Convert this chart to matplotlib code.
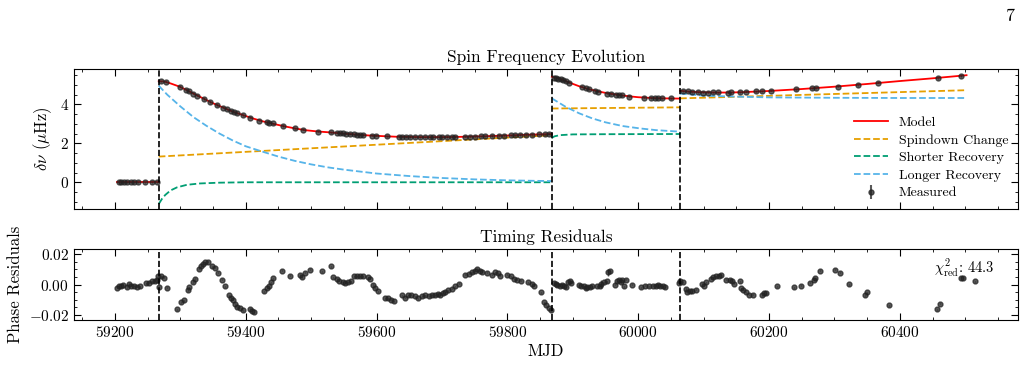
import numpy as np
import matplotlib
matplotlib.use('Agg')
import matplotlib.pyplot as plt
from matplotlib.ticker import AutoMinorLocator, MultipleLocator

# glitch epochs (MJD)
glitch_mjd = [59267, 59868, 60064]

# measured spin frequency offsets (uHz)
freq_mjd = [59206, 59210, 59214, 59219, 59224, 59229, 59236, 59246, 59257, 59264,
            59270, 59278, 59299, 59308, 59313, 59320, 59326, 59336, 59346, 59356,
            59366, 59372, 59377, 59382, 59387, 59396, 59406, 59421, 59432, 59436,
            59441, 59457, 59475, 59487, 59510,
            59531, 59539, 59544, 59549, 59554, 59560, 59565, 59570, 59575, 59580,
            59593, 59599, 59616, 59634, 59639, 59645, 59651, 59659, 59667, 59674,
            59682, 59687, 59696, 59700, 59708, 59715, 59720, 59736, 59743, 59751,
            59759, 59766, 59777, 59787, 59795, 59805, 59812, 59820, 59828, 59838,
            59848, 59858, 59863,
            59871, 59875, 59878, 59882, 59885, 59889, 59895, 59914, 59920, 59925,
            59934, 59939, 59953, 59958, 59966, 59971, 59976, 59986, 60009, 60019,
            60025, 60030, 60037, 60050,
            60068, 60076, 60083, 60091, 60099, 60106, 60114, 60122, 60137, 60142,
            60155, 60165, 60180, 60190, 60203, 60241, 60265, 60272, 60305, 60336,
            60367, 60459, 60494]
freq_val = [0.0, 0.0, 0.0, 0.0, 0.0, 0.0, 0.0, 0.0, 0.0, 0.0,
            5.18, 5.16, 4.91, 4.75, 4.67, 4.55, 4.45, 4.28, 4.12, 3.97,
            3.83, 3.74, 3.67, 3.60, 3.54, 3.45, 3.32, 3.16, 3.09, 3.06,
            3.02, 2.89, 2.77, 2.69, 2.60,
            2.56, 2.54, 2.52, 2.51, 2.49, 2.48, 2.46, 2.45, 2.44, 2.43,
            2.40, 2.39, 2.36, 2.34, 2.34, 2.33, 2.33, 2.32, 2.32, 2.32,
            2.32, 2.32, 2.32, 2.32, 2.33, 2.33, 2.33, 2.34, 2.35, 2.35,
            2.36, 2.37, 2.38, 2.39, 2.40, 2.41, 2.42, 2.43, 2.44, 2.45,
            2.46, 2.47, 2.48,
            5.38, 5.37, 5.33, 5.30, 5.25, 5.20, 5.12, 4.91, 4.82, 4.77,
            4.68, 4.65, 4.55, 4.51, 4.50, 4.49, 4.47, 4.40, 4.35, 4.33,
            4.32, 4.31, 4.31, 4.31,
            4.68, 4.67, 4.63, 4.62, 4.60, 4.60, 4.62, 4.62, 4.60, 4.62,
            4.62, 4.66, 4.68, 4.68, 4.70, 4.77, 4.82, 4.82, 4.92, 4.99,
            5.11, 5.35, 5.46]
freq_err = 0.03

# model and its components, per inter-glitch segment
model_mjd_0 = [59203, 59267]
model_val_0 = [0.0, 0.0]

model_mjd_1 = [59267, 59275, 59285, 59299, 59310, 59320, 59336, 59350, 59366, 59380,
               59396, 59410, 59425, 59440, 59457, 59475, 59490, 59510, 59530, 59550,
               59570, 59590, 59610, 59630, 59650, 59670, 59700, 59720, 59740, 59760,
               59780, 59800, 59820, 59840, 59868]
model_val_1 = [5.19, 5.18, 5.08, 4.91, 4.73, 4.56, 4.29, 4.06, 3.83, 3.63,
               3.45, 3.29, 3.14, 3.02, 2.89, 2.77, 2.68, 2.61, 2.56, 2.50,
               2.45, 2.40, 2.37, 2.34, 2.33, 2.32, 2.32, 2.33, 2.34, 2.36,
               2.38, 2.40, 2.43, 2.45, 2.48]
model_mjd_2 = [59868, 59880, 59895, 59910, 59925, 59940, 59955, 59970, 59985, 60000,
               60020, 60040, 60064]
model_val_2 = [5.42, 5.32, 5.12, 4.93, 4.78, 4.66, 4.56, 4.49, 4.42, 4.37,
               4.33, 4.31, 4.30]
model_mjd_3 = [60064, 60080, 60100, 60120, 60140, 60160, 60180, 60200, 60250, 60300,
               60350, 60400, 60450, 60502]
model_val_3 = [4.70, 4.65, 4.62, 4.61, 4.61, 4.63, 4.66, 4.69, 4.79, 4.91,
               5.05, 5.20, 5.34, 5.50]

spin_mjd_1 = [59267, 59868]
spin_val_1 = [1.32, 2.42]
spin_mjd_2 = [59868, 60064]
spin_val_2 = [3.79, 3.85]
spin_mjd_3 = [60064, 60502]
spin_val_3 = [4.31, 4.73]

short_mjd_1 = [59267, 59272, 59277, 59285, 59295, 59310, 59330, 59360, 59400, 59868]
short_val_1 = [-1.12, -0.85, -0.65, -0.42, -0.26, -0.13, -0.06, -0.02, 0.0, 0.0]
short_mjd_2 = [59868, 59872, 59880, 59900, 59950, 60064]
short_val_2 = [2.28, 2.36, 2.42, 2.46, 2.47, 2.48]

long_mjd_1 = [59267, 59280, 59300, 59320, 59340, 59360, 59380, 59400, 59425, 59450,
              59475, 59500, 59525, 59550, 59575, 59600, 59650, 59700, 59750, 59800,
              59868]
long_val_1 = [4.96, 4.50, 3.90, 3.35, 2.90, 2.50, 2.15, 1.85, 1.58, 1.32,
              1.10, 0.92, 0.77, 0.65, 0.55, 0.45, 0.32, 0.22, 0.15, 0.10,
              0.06]
long_mjd_2 = [59868, 59889, 59910, 59930, 59950, 59976, 60002, 60027, 60064]
long_val_2 = [4.31, 3.88, 3.54, 3.28, 3.08, 2.89, 2.77, 2.68, 2.60]
long_mjd_3 = [60064, 60100, 60150, 60201, 60300, 60400, 60502]
long_val_3 = [4.56, 4.45, 4.40, 4.36, 4.34, 4.33, 4.33]

# phase residuals
res_mjd = [59203, 59206, 59210, 59213, 59218, 59222, 59225, 59229, 59234, 59238,
           59247, 59252, 59256, 59261, 59264, 59266, 59267, 59271, 59275, 59280,
           59295, 59301, 59305, 59311, 59314, 59319, 59322, 59328, 59331, 59335,
           59338, 59343, 59349, 59353, 59358, 59363, 59368, 59374, 59377, 59381,
           59383, 59387, 59391, 59396, 59406, 59410, 59413, 59428, 59432, 59436,
           59439, 59442, 59455, 59467, 59483, 59486, 59491, 59499, 59517,
           59531, 59534, 59539, 59543, 59548, 59552, 59557, 59561, 59566, 59570,
           59575, 59579, 59587, 59590, 59594, 59598, 59602, 59613, 59618, 59622,
           59627, 59639, 59644, 59648, 59653, 59659, 59664, 59669, 59674, 59680,
           59685, 59690, 59694, 59697, 59701, 59705, 59710, 59715, 59720, 59726,
           59736, 59742, 59746, 59751, 59754, 59758, 59761, 59769, 59777, 59781,
           59785, 59789, 59800, 59805, 59810, 59815, 59821, 59832, 59838, 59841,
           59852, 59856, 59859, 59863, 59866,
           59871, 59874, 59876, 59880, 59883, 59886, 59889, 59893, 59896, 59898,
           59910, 59913, 59917, 59920, 59922, 59926, 59930, 59937, 59941, 59943,
           59948, 59952, 59954, 59957, 59964, 59968, 59971, 59973, 59976, 59978,
           59982, 59991, 60004, 60011, 60017, 60022, 60027, 60031, 60034, 60038,
           60041, 60062, 60064, 60068, 60073, 60075, 60079, 60083, 60088, 60098,
           60101, 60104, 60111, 60115, 60119, 60123, 60126, 60135, 60140, 60143,
           60147, 60155, 60157, 60161, 60165, 60169, 60175, 60190, 60193, 60195,
           60212, 60238, 60249, 60263, 60269, 60271, 60278, 60301, 60309, 60323,
           60347, 60350, 60383, 60457, 60461, 60493, 60497, 60515]
res_val = [-0.0022, -0.0011, -0.0007, -0.0002, -0.0018, 0.0004, -0.0007, -0.0007, -0.0015, -0.0011,
           0.0009, 0.0011, 0.0020, 0.0026, 0.0031, 0.0059, -0.0015, 0.0053, 0.0046, -0.0020,
           -0.0162, -0.0116, -0.0103, -0.0039, -0.0018, 0.0015, 0.0037, 0.0103, 0.0120, 0.0136,
           0.0147, 0.0149, 0.0120, 0.0112, 0.0077, 0.0031, -0.0013, -0.0072, -0.0088, -0.0099,
           -0.0127, -0.0149, -0.0155, -0.0171, -0.0160, -0.0175, -0.0182, -0.0044, -0.0024, -0.0007,
           0.0015, 0.0042, 0.0092, 0.0059, 0.0064, 0.0048, 0.0077, 0.0099, 0.0088,
           0.0120, 0.0048, 0.0037, 0.0026, 0.0015, 0.0011, 0.0015, 0.0022, 0.0053, 0.0055,
           0.0053, 0.0055, 0.0048, 0.0037, -0.0002, -0.0024, -0.0046, -0.0090, -0.0090, -0.0099,
           -0.0112, -0.0072, -0.0088, -0.0072, -0.0068, -0.0079, -0.0090, -0.0077, -0.0072, -0.0079,
           -0.0068, -0.0072, -0.0061, -0.0066, -0.0055, -0.0050, -0.0039, -0.0028, -0.0013, 0.0004,
           0.0064, 0.0070, 0.0081, 0.0092, 0.0103, 0.0092, 0.0085, 0.0077, 0.0066, 0.0081,
           0.0074, 0.0059, 0.0064, 0.0053, 0.0037, 0.0031, 0.0026, 0.0015, 0.0004, -0.0007,
           -0.0050, -0.0116, -0.0138, -0.0155, -0.0171,
           0.0011, 0.0004, -0.0002, -0.0007, -0.0002, -0.0011, -0.0018, 0.0015, 0.0020, 0.0011,
           -0.0002, -0.0007, -0.0011, -0.0024, -0.0018, -0.0018, -0.0011, -0.0011, -0.0007, 0.0004,
           0.0015, 0.0020, 0.0081, 0.0092, -0.0002, 0.0020, 0.0033, 0.0015, 0.0033, -0.0011,
           0.0033, -0.0002, -0.0018, -0.0007, -0.0011, -0.0007, -0.0007, -0.0002, -0.0007, -0.0013,
           -0.0018, 0.0011, 0.0020, 0.0015, -0.0028, -0.0050, -0.0044, -0.0046, -0.0033, 0.0004,
           -0.0007, 0.0015, 0.0037, 0.0048, 0.0055, 0.0059, 0.0064, 0.0033, 0.0033, 0.0026,
           0.0004, 0.0022, -0.0024, -0.0035, -0.0050, -0.0068, -0.0068, -0.0072, -0.0057, -0.0057,
           -0.0011, -0.0018, -0.0007, 0.0011, 0.0033, 0.0042, 0.0092, 0.0099, 0.0077, 0.0002,
           -0.0072, -0.0050, -0.0138, -0.0164, -0.0127, 0.0044, 0.0046, 0.0022]
res_err_default = 0.0003
# the few TOAs with visibly larger uncertainties
big_err_mjd = [59943, 59954]
big_err_val = [0.0025, 0.0022]
chi2_red = 44.3

plt.rcParams['font.family'] = 'serif'
plt.rcParams['font.serif'] = ['cmr10', 'DejaVu Serif']
plt.rcParams['mathtext.fontset'] = 'cm'
plt.rcParams['axes.formatter.use_mathtext'] = True
plt.rcParams['axes.unicode_minus'] = True

c_model = '#ff0000'
c_spin = '#E69F00'
c_short = '#009E73'
c_long = '#56B4E9'

fig = plt.figure(figsize=(10.3, 3.65), dpi=100)
ax1 = fig.add_axes([0.0718, 0.427, 0.9165, 0.384])
ax2 = fig.add_axes([0.0718, 0.123, 0.9165, 0.195], sharex=ax1)

# --- spin frequency panel
for mj, mv in [(model_mjd_0, model_val_0), (model_mjd_1, model_val_1),
               (model_mjd_2, model_val_2), (model_mjd_3, model_val_3)]:
    ax1.plot(mj, mv, color=c_model, lw=1.3, zorder=3)
for mj, mv in [(spin_mjd_1, spin_val_1), (spin_mjd_2, spin_val_2), (spin_mjd_3, spin_val_3)]:
    ax1.plot(mj, mv, color=c_spin, lw=1.3, ls='--', zorder=2)
for mj, mv in [(short_mjd_1, short_val_1), (short_mjd_2, short_val_2)]:
    ax1.plot(mj, mv, color=c_short, lw=1.3, ls='--', zorder=2)
for mj, mv in [(long_mjd_1, long_val_1), (long_mjd_2, long_val_2), (long_mjd_3, long_val_3)]:
    ax1.plot(mj, mv, color=c_long, lw=1.3, ls='--', zorder=2)
ax1.errorbar(freq_mjd, freq_val, yerr=freq_err, fmt='o', color='#222222', ms=3.6,
             alpha=0.7, elinewidth=1, capsize=0, zorder=4)

for g in glitch_mjd:
    ax1.axvline(g, color='k', ls='--', lw=1.2, zorder=5)
    ax2.axvline(g, color='k', ls='--', lw=1.2, zorder=5)

ax1.set_ylim(-1.38, 5.82)
ax1.set_ylabel(r'$\delta\nu$ ($\mu$Hz)', fontsize=12)
ax1.set_title('Spin Frequency Evolution', fontsize=12.5, pad=5)
ax1.yaxis.set_major_locator(MultipleLocator(2))

handles = [
    plt.Line2D([], [], color=c_model, lw=1.3),
    plt.Line2D([], [], color=c_spin, lw=1.3, ls='--'),
    plt.Line2D([], [], color=c_short, lw=1.3, ls='--'),
    plt.Line2D([], [], color=c_long, lw=1.3, ls='--'),
]
eb = ax1.errorbar([], [], yerr=[], fmt='o', color='#222222', ms=3.6, alpha=0.75)
handles.append(eb)
ax1.legend(handles, ['Model', 'Spindown Change', 'Shorter Recovery', 'Longer Recovery', 'Measured'],
           loc='lower right', frameon=False, fontsize=10, handlelength=2.4,
           labelspacing=0.35, borderaxespad=0.3)

# --- residual panel
res_err = [big_err_val[big_err_mjd.index(m)] if m in big_err_mjd else res_err_default
           for m in res_mjd]
ax2.errorbar(res_mjd, res_val, yerr=res_err, fmt='o', color='#222222', ms=3.5,
             alpha=0.75, elinewidth=1, capsize=0, zorder=4)
ax2.set_ylim(-0.0235, 0.0235)
ax2.yaxis.set_major_locator(MultipleLocator(0.02))
ax2.set_ylabel('Phase Residuals', fontsize=12)
ax2.set_xlabel('MJD', fontsize=12, labelpad=3)
ax2.set_title('Timing Residuals', fontsize=12.5, pad=5)
ax2.text(0.975, 0.9, r'$\chi^2_{\rm red}$: %.1f' % chi2_red, transform=ax2.transAxes,
         ha='right', va='top', fontsize=10.5)
ax2.xaxis.set_major_locator(MultipleLocator(200))

for ax in (ax1, ax2):
    ax.xaxis.set_minor_locator(AutoMinorLocator())
    ax.yaxis.set_minor_locator(AutoMinorLocator())
    ax.tick_params(which='both', direction='in', top=True, right=True, labelsize=11)
    ax.tick_params(which='major', length=5)
    ax.tick_params(which='minor', length=2.5)
plt.setp(ax1.get_xticklabels(), visible=False)

fig.text(0.985, 0.955, '7', fontsize=13, ha='right', va='center')

fig.savefig('out.png', dpi=100)
